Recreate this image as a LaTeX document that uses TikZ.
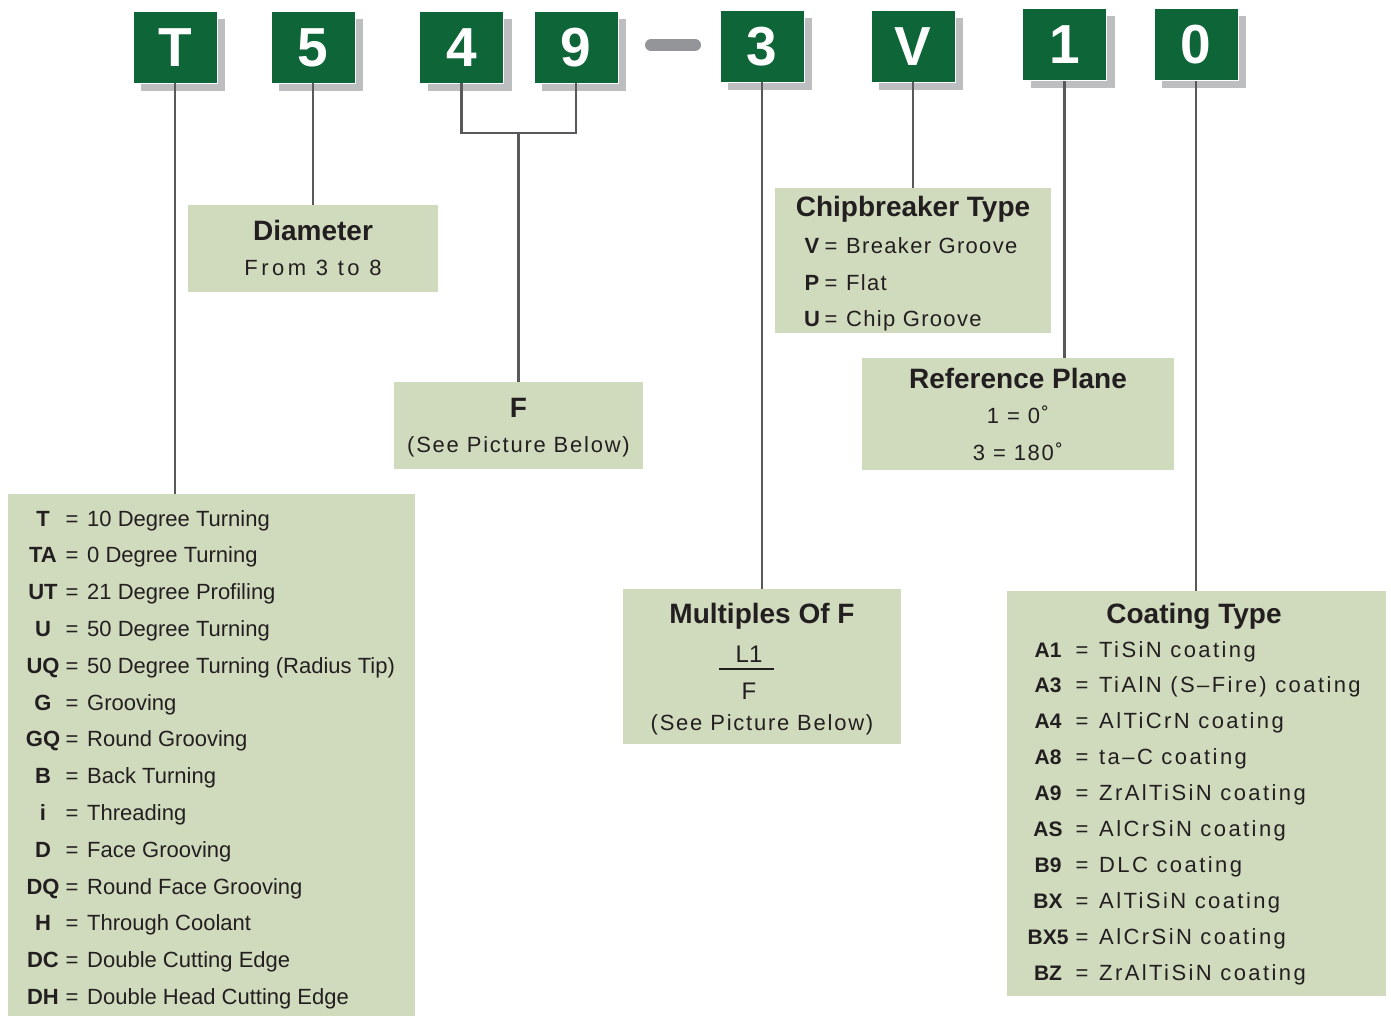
\documentclass[tikz,border=0pt]{standalone}
\usepackage{fontspec}
\setmainfont{Liberation Sans}
\newfontfamily\spc[LetterSpace=6]{Liberation Sans}
\newfontfamily\spcs[LetterSpace=8]{Liberation Sans}
\newfontfamily\spcw[LetterSpace=11]{Liberation Sans}
\newfontfamily\spcx[LetterSpace=16]{Liberation Sans}
\usetikzlibrary{shadows}
\definecolor{dgreen}{HTML}{0E6638}
\definecolor{shgray}{HTML}{BDBEC0}
\definecolor{lgreen}{HTML}{D0DBBE}
\definecolor{lngray}{HTML}{58595B}
\definecolor{dashgray}{HTML}{939598}
\definecolor{txt}{HTML}{231F20}
\begin{document}
\begin{tikzpicture}[x=1pt,y=-1pt,
  codebox/.style={rectangle, fill=dgreen, draw=white, line width=0.8pt, minimum width=84pt, minimum height=72pt, inner sep=0pt,
    drop shadow={shadow xshift=8pt, shadow yshift=-8pt, fill=shgray, opacity=1}},
  codelet/.style={text=white, font=\fontsize{55}{55}\selectfont\bfseries, inner sep=0pt, anchor=base},
  infobox/.style={rectangle, fill=lgreen, draw=none, inner sep=0pt},
  conn/.style={draw=lngray, line width=2.2pt},
  ttl/.style={text=txt, font=\fontsize{28}{32}\selectfont\bfseries, inner sep=0pt, anchor=base},
  body/.style={text=txt, font=\fontsize{22}{24}\selectfont, inner sep=0pt, anchor=base},
  bodyw/.style={text=txt, font=\fontsize{22}{24}\selectfont\spc, inner sep=0pt, anchor=base},
  bodys/.style={text=txt, font=\fontsize{22}{24}\selectfont\spcs, inner sep=0pt, anchor=base},
  code/.style={text=txt, font=\fontsize{22}{24}\selectfont\bfseries, inner sep=0pt, anchor=base},
  lst/.style={text=txt, font=\fontsize{22}{24}\selectfont, inner sep=0pt, anchor=base},
  lstc/.style={text=txt, font=\fontsize{22}{24}\selectfont\bfseries, inner sep=0pt, anchor=base},
  coat/.style={text=txt, font=\fontsize{22}{24}\selectfont\spcw, inner sep=0pt, anchor=base},
  coatc/.style={text=txt, font=\fontsize{21}{24}\selectfont\bfseries, inner sep=0pt, anchor=base}
]
\useasboundingbox (0,0) rectangle (1391,1016);

% code boxes
\node[codebox] (bT) at (175,47) {};
\node[codebox] (b5) at (313,47) {};
\node[codebox] (b4) at (461.5,47) {};
\node[codebox] (b9) at (576,47) {};
\node[codebox] (b3) at (762,46) {};
\node[codebox] (bV) at (913,46) {};
\node[codebox] (b1) at (1064.5,44.5) {};
\node[codebox] (b0) at (1196,44.5) {};
\node[codelet] (tT) at (175,66.5) {T};
\node[codelet] (t5) at (313,66.5) {5};
\node[codelet] (t4) at (461.5,66.5) {4};
\node[codelet] (t9) at (576,66.5) {9};
\node[codelet] (t3) at (762,65.5) {3};
\node[codelet] (tV) at (913,65.5) {V};
\node[codelet] (t1) at (1064.5,64) {1};
\node[codelet] (t0) at (1196,64) {0};
% dash
\coordinate (dA) at (651,45);
\coordinate (dB) at (695,45);
\draw[dashgray, line width=12pt, line cap=round] (dA) -- (dB);

% info boxes
\node[infobox, minimum width=250pt, minimum height=87pt] (dia) at (313,248.5) {};
\node[infobox, minimum width=249pt, minimum height=87pt] (fbx) at (518.5,425.5) {};
\node[infobox, minimum width=276pt, minimum height=145pt] (chip) at (913,260.5) {};
\node[infobox, minimum width=312pt, minimum height=112pt] (ref) at (1018,414) {};
\node[infobox, minimum width=278pt, minimum height=155pt] (mult) at (762,666.5) {};
\node[infobox, minimum width=407pt, minimum height=530pt] (lbox) at (211.5,759) {};
\node[infobox, minimum width=379pt, minimum height=405pt] (cbox) at (1196.5,793.5) {};

% connectors
\draw[conn] (bT.south) -- (bT.south |- lbox.north);
\draw[conn] (b5.south) -- (b5.south |- dia.north);
\coordinate (brk) at (518.5,133);
\draw[conn] (b4.south) |- (brk) -| (b9.south);
\draw[conn] (brk) -- (fbx.north);
\draw[conn] (b3.south) -- (b3.south |- mult.north);
\draw[conn] (bV.south) -- (bV.south |- chip.north);
\draw[conn] (b1.south) -- (b1.south |- ref.north);
\draw[conn] (b0.south) -- (b0.south |- cbox.north);

% Diameter
\node[ttl] (diaT) at (313,241) {Diameter};
\node[body, font=\fontsize{22}{24}\selectfont\spcx] (diaB) at (313,275) {From 3 to 8};
% F
\node[ttl] (fT) at (518.5,417) {F};
\node[bodys] (fB) at (518.5,452) {(See Picture Below)};
% Chipbreaker
\node[ttl] (chT) at (913,217) {Chipbreaker Type};
\node[code] (chc1) at (812,254) {V};
\node[body] (che1) at (831,254) {=};
\node[bodyw, anchor=base west] (cht1) at (846,254) {Breaker Groove};
\node[code] (chc2) at (812,290) {P};
\node[body] (che2) at (831,290) {=};
\node[bodyw, anchor=base west] (cht2) at (846,290) {Flat};
\node[code] (chc3) at (812,326) {U};
\node[body] (che3) at (831,326) {=};
\node[bodyw, anchor=base west] (cht3) at (846,326) {Chip Groove};
% Reference plane
\node[ttl] (rfT) at (1018,388) {Reference Plane};
\node[bodys] (rf1) at (1018,423) {1 = 0˚};
\node[bodys] (rf2) at (1018,460) {3 = 180˚};
% Multiples
\node[ttl] (mT) at (762,623) {Multiples Of F};
\node[body, font=\fontsize{24}{26}\selectfont] (mL) at (749,662) {L1};
\coordinate (fbA) at (719,669);
\coordinate (fbB) at (774,669);
\draw[txt, line width=2pt] (fbA) -- (fbB);
\node[body, font=\fontsize{24}{26}\selectfont] (mF) at (749,699) {F};
\node[bodys] (mB) at (762,730) {(See Picture Below)};

% left list
\foreach \c/\t [count=\i from 0] in {T/10 Degree Turning, TA/0 Degree Turning, UT/21 Degree Profiling, U/50 Degree Turning, UQ/50 Degree Turning (Radius Tip), G/Grooving, GQ/Round Grooving, B/Back Turning, i/Threading, D/Face Grooving, DQ/Round Face Grooving, H/Through Coolant, DC/Double Cutting Edge, DH/Double Head Cutting Edge}{
  \node[lstc] (lc\i) at (43,526+36.8*\i) {\c};
  \node[lst] (le\i) at (72,526+36.8*\i) {=};
  \node[lst, anchor=base west] (lt\i) at (87,526+36.8*\i) {\t};
}

% coating list
\node[ttl] (cT) at (1194,623) {Coating Type};
\foreach \c/\t [count=\i from 0] in {A1/TiSiN coating, A3/TiAlN (S–Fire) coating, A4/AlTiCrN coating, A8/ta–C coating, A9/ZrAlTiSiN coating, AS/AlCrSiN coating, B9/DLC coating, BX/AlTiSiN coating, BX5/AlCrSiN coating, BZ/ZrAlTiSiN coating}{
  \node[coatc] (cc\i) at (1048,657+35.9*\i) {\c};
  \node[coat] (ce\i) at (1082,657+35.9*\i) {=};
  \node[coat, anchor=base west] (ct\i) at (1099,657+35.9*\i) {\t};
}
\end{tikzpicture}
\end{document}
